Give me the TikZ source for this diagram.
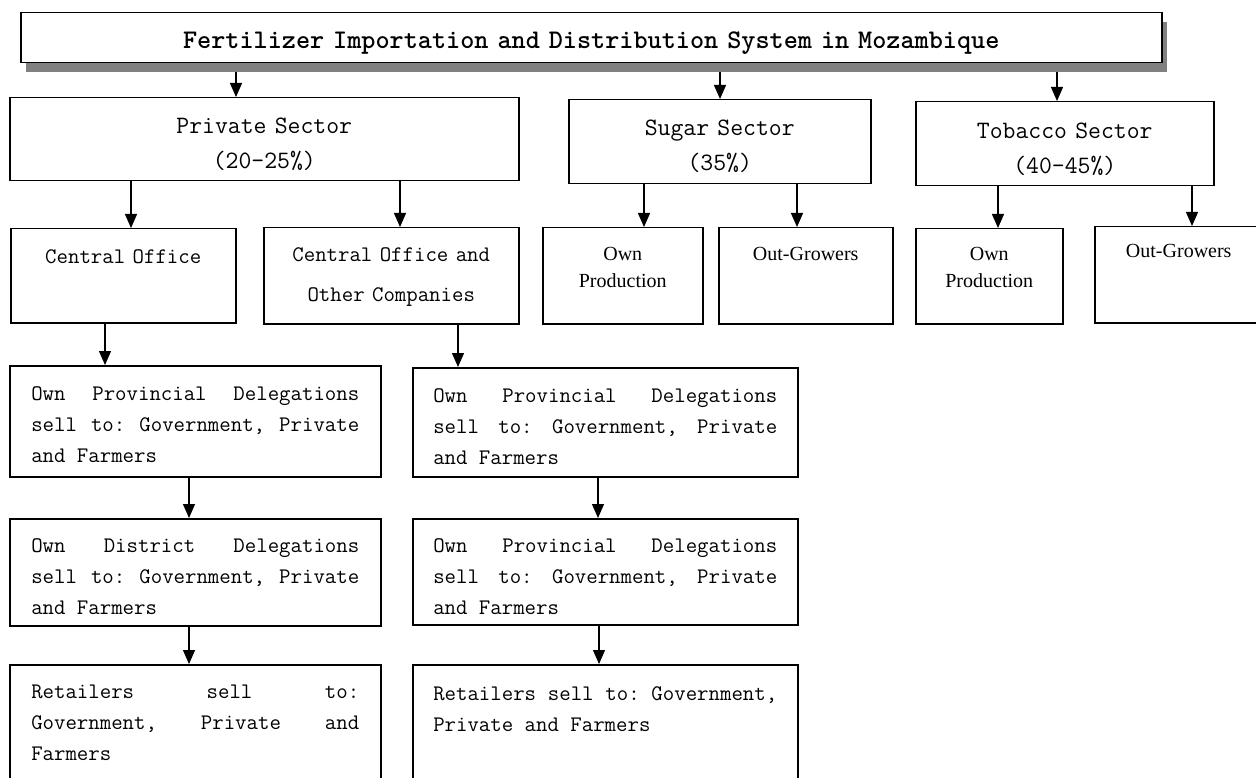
\documentclass[tikz,border=0pt]{standalone}
\usepackage{fontspec}
\usetikzlibrary{arrows.meta}

\newfontfamily\labelfont{Liberation Serif}
\newcommand{\boxfont}{\ttfamily}
\definecolor{shadowgray}{RGB}{128,128,128}

% justified text in the channel boxes
\newcommand{\sellfont}{\boxfont\fontsize{22.2}{31}\selectfont
  \fontdimen3\font=30pt \fontdimen4\font=2pt \frenchspacing
  \hyphenpenalty=10000 \tolerance=9999 \hbadness=10000 }

\tikzset{
  box/.style={draw, line width=1.5pt, anchor=north west, inner ysep=0pt},
  heading/.style={box, inner xsep=0pt, align=center,
    font=\boxfont\bfseries\fontsize{26.9}{30}\selectfont},
  sector/.style={box, inner xsep=0pt, align=center,
    font=\boxfont\fontsize{25}{35}\selectfont},
  office/.style={box, inner xsep=0pt, align=center,
    font=\boxfont\fontsize{22.2}{40}\selectfont},
  unit/.style={box, inner xsep=0pt, align=center,
    font=\labelfont\fontsize{20}{27}\selectfont},
  sells/.style={box, align=justify, font=\sellfont},
  arr/.style={line width=1.3pt, -{Triangle[width=12pt,length=14pt]}}
}

\begin{document}
\begin{tikzpicture}[x=1pt, y=-1pt]
    \useasboundingbox (0,0) rectangle (1256,778);
    \clip (0,0) rectangle (1256,778);

    % title with its grey shadow
    \node[anchor=north west, fill=shadowgray, inner sep=0pt,
          minimum width=1141pt, minimum height=50pt] (tshadow) at (26,22) {};
    \node[heading, fill=white, text width=1141pt, text height=36pt, text depth=14pt]
        (title) at (20,12) {Fertilizer Importation and Distribution System in Mozambique};

    % the three sectors
    \node[sector, text width=509pt, text height=36pt, text depth=47pt]
        (priv) at (9,97) {Private Sector\\(20-25\%)};
    \node[sector, text width=302pt, text height=36pt, text depth=48pt]
        (sugar) at (568,99) {Sugar Sector\\(35\%)};
    \node[sector, text width=298pt, text height=37pt, text depth=47pt]
        (tob) at (915,101) {Tobacco Sector\\(40-45\%)};

    % second level
    \node[office, text width=225pt, text height=35pt, text depth=59pt]
        (cent) at (10,228) {Central Office};
    \node[office, text width=255pt, text height=34pt, text depth=62pt]
        (centoth) at (263,227) {Central Office and\\Other Companies};
    \node[unit, text width=160pt, text height=33pt, text depth=63pt]
        (sown) at (542,227) {Own\\Production};
    \node[unit, text width=174pt, text height=33pt, text depth=63pt]
        (sout) at (718,227) {Out-Growers};
    \node[unit, text width=147pt, text height=32pt, text depth=63pt]
        (town) at (915,228) {Own\\Production};
    \node[unit, text width=168pt, text height=31pt, text depth=65pt]
        (tout) at (1094,226) {Out-Growers};

    % distribution chains
    \node[sells, inner xsep=21.5pt, text width=328pt, text height=35pt, text depth=76pt]
        (lprov) at (9,365) {Own Provincial Delegations\linebreak sell to: Government, Private\linebreak and Farmers};
    \node[sells, inner xsep=21.5pt, text width=328pt, text height=34pt, text depth=73pt]
        (ldist) at (9,518) {Own District Delegations\linebreak sell to: Government, Private\linebreak and Farmers};
    \node[sells, inner xsep=21.5pt, text width=328pt, text height=34pt, text depth=110pt]
        (lret) at (9,664) {Retailers sell to:\linebreak Government, Private and\linebreak Farmers};

    \node[sells, inner xsep=20.5pt, text width=344pt, text height=35pt, text depth=74pt]
        (rprov) at (412,367) {Own Provincial Delegations\linebreak sell to: Government, Private\linebreak and Farmers};
    \node[sells, inner xsep=20.5pt, text width=344pt, text height=34pt, text depth=72pt]
        (rprov2) at (412,518) {Own Provincial Delegations\linebreak sell to: Government, Private\linebreak and Farmers};
    \node[sells, inner xsep=20.5pt, text width=344pt, text height=36pt, text depth=108pt]
        (rret) at (412,664) {Retailers sell to: Government,\linebreak Private and Farmers};

    % arrows: from / to / x position
    \foreach \from/\to/\xx in {tshadow/priv/236, tshadow/sugar/720, tshadow/tob/1057,
        priv/cent/131, priv/centoth/400, sugar/sown/644, sugar/sout/797,
        tob/town/998, tob/tout/1192, cent/lprov/105, centoth/rprov/458,
        lprov/ldist/189, rprov/rprov2/598, ldist/lret/189, rprov2/rret/599}
        \draw[arr] (\from.south -| \xx,0) -- (\to.north -| \xx,0);
\end{tikzpicture}
\end{document}
